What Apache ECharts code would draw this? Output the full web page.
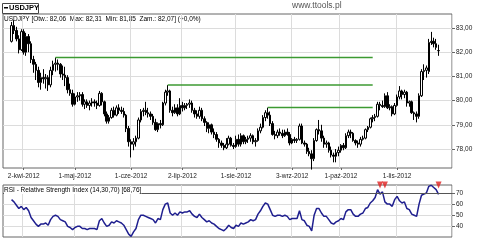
<!DOCTYPE html>
<html><head><meta charset="utf-8">
<script src="https://cdn.jsdelivr.net/npm/echarts@6/dist/echarts.min.js"></script>
<style>html,body{margin:0;padding:0;background:#fff}#c{width:480px;height:240px}</style>
</head><body><div id="c"></div>
<script>
// ---- categories ----
const monthNames = ['sty','lut','mar','kwi','maj','cze','lip','sie','wrz','paź','lis','gru'];
const axisFirstDay = '2012-03-21';   // axis starts a few sessions before the data
const axisLastDay = '2012-12-03';    // and ends a few sessions after it
const dataFirstDay = '26-mar-2012';
const tickLabels = ['2-kwi-2012','1-maj-2012','1-cze-2012','2-lip-2012','1-sie-2012','3-wrz-2012','1-paź-2012','1-lis-2012'];

// ---- USDJPY daily OHLC (26-mar-2012 .. 26-lis-2012) ----
const open = [82.45,83.10,82.90,82.55,82.10,82.85,82.00,82.65,82.35,81.70,81.50,81.25,80.75,80.95,80.90,80.95,80.65,81.25,81.50,81.55,
81.50,81.10,81.05,80.95,80.45,80.30,79.85,80.15,80.20,80.25,79.85,79.95,79.80,79.90,79.95,79.90,79.80,80.30,79.95,79.45,
79.15,79.30,79.60,79.40,79.70,79.60,79.55,79.40,78.85,78.30,78.20,78.30,78.45,79.20,79.55,79.60,79.50,79.45,79.35,79.10,
78.80,79.05,79.00,79.90,80.35,80.40,79.60,79.50,79.70,79.45,79.80,79.70,79.80,79.85,79.90,79.60,79.45,79.35,79.60,79.25,
79.10,78.85,79.00,78.70,78.60,78.40,78.25,78.15,78.05,78.20,78.45,78.15,78.10,78.40,78.20,78.55,78.30,78.40,78.45,78.55,
78.30,78.35,78.75,78.90,79.30,79.50,79.40,79.05,78.60,78.55,78.70,78.65,78.55,78.70,78.60,78.25,78.40,78.35,78.40,78.95,
78.25,78.20,77.90,77.80,77.60,78.35,78.80,78.75,78.45,78.20,78.25,77.95,77.75,77.70,77.85,77.95,78.15,78.05,78.55,78.70,
78.65,78.35,78.25,78.20,78.40,78.45,78.80,78.90,79.25,79.30,79.35,79.85,79.80,79.75,80.20,79.70,79.75,79.45,79.80,80.15,
80.40,80.25,80.35,79.90,79.95,79.50,79.45,79.35,80.20,81.20,81.25,81.20,82.40,82.45,82.35,82.06];
const high = [83.25,83.32,83.05,82.70,82.95,82.95,82.80,82.75,82.45,81.85,81.60,81.40,81.15,81.30,81.10,81.05,81.40,81.65,81.78,81.70,
81.55,81.45,81.40,81.05,80.70,80.45,80.30,80.35,80.35,80.35,80.05,80.05,80.00,80.10,80.05,80.00,80.40,80.35,80.00,79.55,
79.40,79.70,79.75,79.80,79.85,79.75,79.70,79.45,78.95,78.40,78.45,78.55,79.30,79.65,79.70,79.95,79.70,79.55,79.45,79.25,
79.10,79.20,79.95,80.45,80.64,80.45,79.75,79.85,79.85,80.10,79.95,79.90,79.90,80.05,80.00,79.70,79.60,79.75,79.70,79.35,
79.15,79.10,79.05,78.85,78.70,78.45,78.35,78.25,78.45,78.55,78.50,78.25,78.55,78.60,78.65,78.60,78.50,78.55,78.65,78.60,
78.45,78.85,79.05,79.40,79.60,79.71,79.55,79.15,78.75,78.80,78.85,78.80,78.80,78.85,78.70,78.45,78.50,78.45,79.05,79.05,
78.35,78.25,78.05,77.95,78.45,78.85,79.20,79.00,78.55,78.35,78.30,78.10,77.85,78.00,78.10,78.20,78.25,78.65,78.80,78.80,
78.70,78.40,78.35,78.50,78.55,78.85,78.95,79.30,79.40,79.45,79.95,79.95,80.00,80.30,80.35,79.85,79.80,79.90,80.25,80.60,
80.45,80.45,80.40,80.00,80.00,79.55,79.55,80.30,81.30,81.50,81.45,82.55,82.84,82.60,82.55,82.31];
const low = [82.40,82.75,82.45,81.95,82.05,81.90,81.85,82.00,81.55,81.15,80.85,80.55,80.45,80.70,80.50,80.40,80.55,81.05,81.20,81.25,
80.95,80.85,80.60,80.30,80.20,79.75,79.80,79.95,80.00,79.75,79.65,79.70,79.60,79.75,79.75,79.65,79.75,79.80,79.35,79.05,
79.05,79.25,79.30,79.35,79.45,79.45,79.30,78.70,78.10,77.65,77.95,78.10,78.40,79.10,79.35,79.40,79.30,79.20,79.00,78.75,
78.70,78.85,78.95,79.80,80.20,79.50,79.35,79.45,79.35,79.40,79.55,79.60,79.65,79.70,79.50,79.30,79.25,79.25,79.15,78.95,
78.70,78.65,78.60,78.45,78.30,78.05,78.05,77.95,78.00,78.15,78.10,78.00,78.05,78.10,78.10,78.20,78.20,78.25,78.30,78.20,
78.10,78.30,78.65,78.85,79.15,79.25,78.95,78.55,78.40,78.45,78.55,78.45,78.50,78.55,78.15,78.20,78.25,78.25,78.35,78.20,
78.10,77.80,77.70,77.15,77.50,78.30,78.60,78.30,78.05,78.05,77.85,77.65,77.45,77.45,77.70,77.85,77.95,78.00,78.45,78.45,
78.30,78.15,78.05,78.10,78.35,78.40,78.70,78.85,79.10,79.15,79.30,79.60,79.70,79.70,79.65,79.60,79.35,79.40,79.75,80.05,
80.05,80.10,79.75,79.75,79.45,79.20,79.10,79.25,80.15,80.85,80.95,81.10,82.30,82.20,82.10,81.85];
const close = [83.10,82.90,82.55,82.10,82.85,82.00,82.65,82.35,81.70,81.50,81.25,80.75,80.95,80.90,80.95,80.65,81.25,81.50,81.55,81.50,
81.10,81.05,80.95,80.45,80.30,79.85,80.15,80.20,80.25,79.85,79.95,79.80,79.90,79.95,79.90,79.80,80.30,79.95,79.45,79.15,
79.30,79.60,79.40,79.70,79.60,79.55,79.40,78.85,78.30,78.20,78.30,78.45,79.20,79.55,79.60,79.50,79.45,79.35,79.10,78.80,
79.05,79.00,79.90,80.35,80.40,79.60,79.50,79.70,79.45,79.80,79.70,79.80,79.85,79.90,79.60,79.45,79.35,79.60,79.25,79.10,
78.85,79.00,78.70,78.60,78.40,78.25,78.15,78.05,78.20,78.45,78.15,78.10,78.40,78.20,78.55,78.30,78.40,78.45,78.55,78.30,
78.35,78.75,78.90,79.30,79.50,79.40,79.05,78.60,78.55,78.70,78.65,78.55,78.70,78.60,78.25,78.40,78.35,78.40,78.95,78.25,
78.20,77.90,77.80,77.60,78.35,78.80,78.75,78.45,78.20,78.25,77.95,77.75,77.70,77.85,77.95,78.15,78.05,78.55,78.70,78.65,
78.35,78.25,78.20,78.40,78.45,78.80,78.90,79.25,79.30,79.35,79.85,79.80,79.75,80.20,79.70,79.75,79.45,79.80,80.15,80.40,
80.25,80.35,79.90,79.95,79.50,79.45,79.35,80.20,81.20,81.25,81.35,82.40,82.45,82.35,82.20,82.07];

// ---- RSI(14) values ----
const rsi = [64,62,59,56,58,55,57,54,48,45,42,40,42,42,43,41,46,49,50,49,
46,45,44,40,39,37,39,40,40,38,38,37,38,38,38,37,45,47,43,40,
41,44,43,45,44,43,41,37,33,31,35,38,46,50,50,49,48,47,46,43,
47,46,55,60,61,52,50,52,50,53,52,53,53,54,51,49,48,51,48,46,
44,45,43,42,40,38,37,36,38,41,39,38,41,40,43,42,43,44,46,45,
46,51,54,58,61,60,55,50,49,50,50,49,50,49,46,47,47,47,54,46,
45,41,40,36,50,56,56,52,49,49,46,43,42,44,45,47,46,53,55,55,
51,49,49,51,52,56,57,61,63,66,73,69,71,62,60,60,58,64,67,63,
61,62,56,55,51,50,49,60,68,69,70,76,77,75,73,68.76];
const rsiSignals = ['23-paź-2012','25-paź-2012','26-lis-2012'];
const rsiTickLabels = [40, 50, 60, 70];

// ---- horizontal resistance levels ----
const levelValues = [81.78, 80.64, 79.71];
const levelStarts = ['19-kwi-2012','22-cze-2012','20-sie-2012'];
const levelEnd = '18-paź-2012';

// ---- build category list (trading weekdays) ----
function fmt(d){return d.getUTCDate()+'-'+monthNames[d.getUTCMonth()]+'-'+d.getUTCFullYear();}
const dates = [];
for (let d = new Date(axisFirstDay+'T00:00:00Z'); d <= new Date(axisLastDay+'T00:00:00Z'); d.setUTCDate(d.getUTCDate()+1)) {
  const w = d.getUTCDay(); if (w !== 0 && w !== 6) dates.push(fmt(d));
}
const offset = dates.indexOf(dataFirstDay);
const pad = n => Array.from({length:n}, () => ['-','-','-','-']);
const candleData = pad(offset).concat(open.map((o,i)=>[o, close[i], low[i], high[i]]));
const rsiData = rsi.map((v,i)=>[dates[offset+i], v]);
const n2 = v => v.toFixed(2).replace('.', ',');
const last = open.length-1;
const header = 'USDJPY [Otw.: '+n2(open[last])+'  Max: '+n2(high[last])+'  Min: '+n2(low[last])+'  Zam.: '+n2(close[last])+'] (+0,0%)';
const rsiHeader = 'RSI - Relative Strength Index (14,30,70) ['+String(rsi[last]).replace('.', ',')+']';

const FONT = 'Liberation Sans';
const showTick = (i, v) => tickLabels.indexOf(v) >= 0;
const RSI_MIN = 30.4, RSI_MAX = 77.2;

const chart = echarts.init(document.getElementById('c'), null, {renderer:'canvas'});
chart.setOption({
  animation:false,
  backgroundColor:'#fff',
  textStyle:{fontFamily:FONT},
  grid:[
    {left:3, right:28, top:14, height:154, show:true, borderColor:'#666', borderWidth:1, backgroundColor:'#fff', outerBoundsMode:'none', containLabel:false},
    {left:3, right:28, top:185, height:52, show:true, borderColor:'#666', borderWidth:1, backgroundColor:'#fff', outerBoundsMode:'none', containLabel:false}
  ],
  xAxis:[
    {type:'category', gridIndex:0, data:dates, boundaryGap:true,
     axisLine:{show:false}, axisTick:{show:true, interval:showTick, alignWithLabel:true, length:2, lineStyle:{color:'#666'}},
     axisLabel:{interval:showTick, fontSize:6.5, color:'#222', margin:5, fontFamily:FONT},
     splitLine:{show:true, interval:showTick, lineStyle:{color:'#dcdcdc', width:1}}},
    {type:'category', gridIndex:1, data:dates, boundaryGap:true,
     axisLine:{show:false}, axisTick:{show:false}, axisLabel:{show:false},
     splitLine:{show:true, interval:showTick, lineStyle:{color:'#dcdcdc', width:1}}}
  ],
  yAxis:[
    {type:'value', gridIndex:0, position:'right', min:77.215, max:83.579, scale:true,
     axisLine:{show:false}, axisTick:{show:true, length:3, lineStyle:{color:'#666'}},
     axisLabel:{fontSize:6.5, color:'#222', margin:4, showMinLabel:false, showMaxLabel:false, formatter:v=>n2(v), fontFamily:FONT},
     splitLine:{show:true, showMinLine:false, showMaxLine:false, lineStyle:{color:'#dcdcdc', width:1}}},
    {type:'value', gridIndex:1, position:'right', min:RSI_MIN, max:RSI_MAX, scale:true, splitNumber:5,
     axisLine:{show:false}, axisTick:{show:true, length:3, lineStyle:{color:'#666'}},
     axisLabel:{fontSize:6.5, color:'#222', margin:4, showMinLabel:false, showMaxLabel:false, fontFamily:FONT,
       formatter:v=>rsiTickLabels.indexOf(Math.round(v*1000)/1000) >= 0 ? String(v) : ''},
     splitLine:{show:true, showMinLine:false, showMaxLine:false, lineStyle:{color:'#dcdcdc', width:1}}}
  ],
  series:[
    {type:'candlestick', name:'USDJPY', xAxisIndex:0, yAxisIndex:0, data:candleData, barWidth:2,
     itemStyle:{color:'#ffffff', color0:'#000000', borderColor:'#000000', borderColor0:'#000000', borderWidth:1}},
    ...levelValues.map((v,k)=>({type:'line', xAxisIndex:0, yAxisIndex:0, data:[[levelStarts[k], v],[levelEnd, v]],
      symbol:'none', lineStyle:{color:'#3c9a32', width:1.5}, silent:true})),
    {type:'line', name:'RSI', xAxisIndex:1, yAxisIndex:1, data:rsiData, symbol:'none',
     lineStyle:{color:'#1f1f8f', width:1.5},
     markLine:{silent:true, symbol:'none', label:{show:false}, lineStyle:{color:'#555', width:1, type:'solid'},
       data:[{yAxis:70}]}},
    {type:'scatter', xAxisIndex:1, yAxisIndex:1, data:rsiSignals.map(d=>[d, RSI_MAX]), symbol:'triangle', symbolRotate:180,
     symbolSize:[6,7], itemStyle:{color:'#e02020'}, z:5, clip:false}
  ],
  graphic:[
    {type:'rect', left:2, top:3, shape:{width:36, height:10}, style:{fill:'#fff', stroke:'#444', lineWidth:1}},
    {type:'rect', left:4, top:7, shape:{width:4, height:1.5}, style:{fill:'#000'}},
    {type:'text', left:9, top:4, style:{text:'USDJPY', font:'bold 7.5px '+FONT, fill:'#000'}},
    {type:'text', left:4, top:16, style:{text:header, font:'6.5px '+FONT, fill:'#000'}},
    {type:'text', left:292, top:1, style:{text:'www.ttools.pl', font:'8.5px '+FONT, fill:'#555'}},
    {type:'text', left:4, top:187, z:10, style:{text:rsiHeader, font:'6.5px '+FONT, fill:'#000', backgroundColor:'#fff'}}
  ]
});
</script></body></html>
